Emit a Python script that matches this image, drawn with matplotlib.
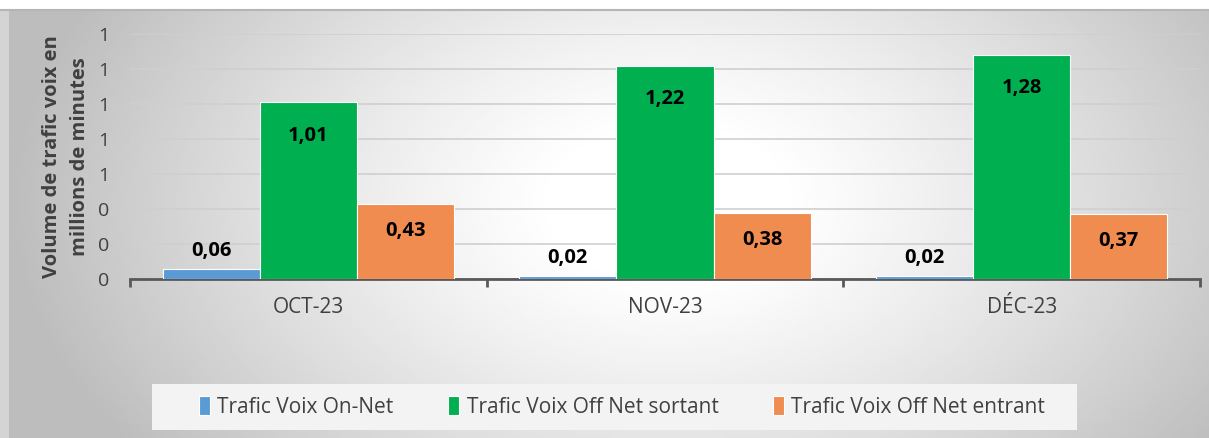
import numpy as np
import matplotlib
matplotlib.use('Agg')
import matplotlib.pyplot as plt
from matplotlib.patches import Rectangle
from matplotlib.ticker import FuncFormatter, MultipleLocator

months = ['OCT-23', 'NOV-23', 'DÉC-23']
on_net = [0.06, 0.02, 0.02]
off_sortant = [1.01, 1.22, 1.28]
off_entrant = [0.43, 0.38, 0.37]
series_names = ['Trafic Voix On-Net', 'Trafic Voix Off Net sortant', 'Trafic Voix Off Net entrant']
colors = ['#5b9bd5', '#00b050', '#f08c4f']

plt.rcParams['font.family'] = ['Open Sans', 'DejaVu Sans']

W, H = 1209, 438
fig = plt.figure(figsize=(W / 100, H / 100), dpi=100)

# gradient background (radial, light centre, grey edges)
bg = fig.add_axes([9 / W, 0, 1 - 9 / W, 1 - 10 / H])
bg.set_axis_off()
xx, yy = np.meshgrid(np.linspace(0, 1, 400), np.linspace(0, 1, 200))
r = np.sqrt(((xx - 0.55) / 0.55) ** 2 + ((yy - 0.45) / 1.0) ** 2)
val = np.clip(1.03 - 0.29 * r ** 1.3, 0.74, 1.0)
bg.imshow(val, cmap='gray', vmin=0, vmax=1, aspect='auto', extent=[0, 1, 0, 1])
bg.set_xlim(0, 1)
bg.set_ylim(0, 1)
fig.add_artist(Rectangle((0, 0), 9 / W, 1 - 10 / H, transform=fig.transFigure,
                         facecolor='#d4d4d4', edgecolor='none', zorder=-1))
fig.add_artist(plt.Line2D([0, 1], [1 - 10 / H] * 2, color='#b5b5b5', lw=1.5))

ax = fig.add_axes([130 / W, 1 - 279 / H, 1070 / W, 245 / H])
ax.patch.set_alpha(0)

x = np.arange(len(months))
w = 0.2725
data = [on_net, off_sortant, off_entrant]
bars = []
for i, (vals, name, c) in enumerate(zip(data, series_names, colors)):
    b = ax.bar(x + (i - 1) * w, vals, w, color=c, edgecolor='white', linewidth=0.8, label=name, zorder=3)
    bars.append(b)

for rect, v in zip(bars[0], on_net):
    ax.text(rect.get_x() + rect.get_width() / 2, v + 0.1, f'{v:.2f}'.replace('.', ','),
            ha='center', va='center', fontsize=14.5, fontweight='bold', zorder=4)
for b, vals, off in [(bars[1], off_sortant, 0.19), (bars[2], off_entrant, 0.155)]:
    for rect, v in zip(b, vals):
        ax.text(rect.get_x() + rect.get_width() / 2, v - off, f'{v:.2f}'.replace('.', ','),
                ha='center', va='center', fontsize=14.5, fontweight='bold', zorder=4)

ax.set_xlim(-0.5, 2.5)
ax.set_ylim(0, 1.4)
ax.yaxis.set_major_locator(MultipleLocator(0.2))
ax.yaxis.set_major_formatter(FuncFormatter(lambda v, p: f'{v:.0f}'))
ax.grid(axis='y', color='#cfcfcf', lw=1.2, zorder=0)
for s in ['top', 'right', 'left']:
    ax.spines[s].set_visible(False)
ax.spines['bottom'].set_color('#595959')
ax.spines['bottom'].set_linewidth(2)
ax.tick_params(axis='y', length=0, labelsize=14, labelcolor='#404040', pad=15)
ax.set_xticks(x)
ax.set_xticklabels(months)
ax.tick_params(axis='x', which='major', length=0, labelsize=15, labelcolor='#404040', pad=13)
ax.set_xticks([-0.5, 0.5, 1.5, 2.5], minor=True)
ax.tick_params(axis='x', which='minor', length=6, width=2, color='#595959', direction='out')
ax.set_ylabel('Volume de trafic voix en\nmillions de minutes', fontsize=14.5, fontweight='bold',
              color='#404040', labelpad=6, linespacing=1.5)

# legend box
fig.add_artist(Rectangle((152 / W, 1 - 430 / H), 925 / W, 46 / H, transform=fig.transFigure,
                         facecolor='#f3f3f3', edgecolor='none', zorder=1))
leg = fig.legend(loc='center', bbox_to_anchor=(622 / W, 1 - 407 / H), ncol=3, frameon=False,
                 fontsize=15, handlelength=0.55, handleheight=1.0, handletextpad=0.35,
                 columnspacing=2.6)
for t in leg.get_texts():
    t.set_color('#404040')

fig.savefig('out.png', dpi=100)
